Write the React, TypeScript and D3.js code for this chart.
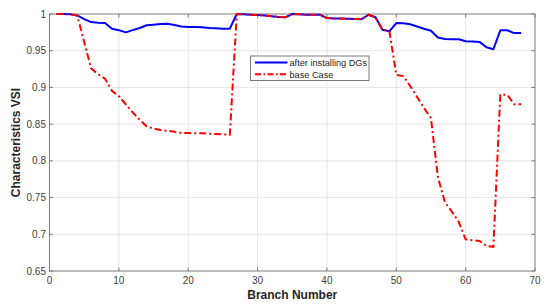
import React from "react";
import * as d3 from "d3";

const branches = d3.range(1, 69);
const afterDG = [
  1.0, 1.0, 0.9995, 0.998, 0.993, 0.989, 0.988, 0.9877, 0.98, 0.978,
  0.975, 0.978, 0.981, 0.9846, 0.9855, 0.9865, 0.9868, 0.985, 0.983, 0.9823,
  0.9822, 0.982, 0.981, 0.9805, 0.98, 0.98, 1.0, 0.9995, 0.999, 0.9986,
  0.998, 0.997, 0.996, 0.9955, 1.0, 0.9995, 0.999, 0.999, 0.999, 0.9945,
  0.994, 0.9938, 0.9935, 0.9932, 0.993, 0.999, 0.9955, 0.9786, 0.9764, 0.9877,
  0.9875, 0.986, 0.983, 0.98, 0.9773, 0.968, 0.966, 0.9655, 0.9655, 0.963,
  0.9625, 0.962, 0.9546, 0.952, 0.9778, 0.9778, 0.974, 0.974,
];
const baseCase = [
  1.0, 1.0, 0.9995, 0.998, 0.962, 0.926, 0.918, 0.912, 0.8955, 0.888,
  0.877, 0.866, 0.856, 0.847, 0.844, 0.842, 0.841, 0.8395, 0.838, 0.8378,
  0.8376, 0.8375, 0.837, 0.8365, 0.836, 0.8356, 1.0, 0.9995, 0.999, 0.9986,
  0.998, 0.997, 0.996, 0.9955, 1.0, 0.9995, 0.999, 0.999, 0.999, 0.9945,
  0.994, 0.9938, 0.9935, 0.9932, 0.993, 0.999, 0.9955, 0.9786, 0.977, 0.917,
  0.9155, 0.902, 0.887, 0.872, 0.858, 0.778, 0.744, 0.731, 0.717, 0.693,
  0.692, 0.691, 0.684, 0.683, 0.89, 0.89, 0.877, 0.877,
];
const xTicks = [0, 10, 20, 30, 40, 50, 60, 70];
const yTicks = [0.65, 0.7, 0.75, 0.8, 0.85, 0.9, 0.95, 1];
const seriesNames = ["after installing DGs", "base Case"];

const W = 550;
const H = 308;
const L = 49.5;
const R = 535;
const T = 14;
const B = 271;

export default function App() {
  const x = d3.scaleLinear().domain([0, 70]).range([L, R]);
  const y = d3.scaleLinear().domain([0.65, 1]).range([B, T]);
  const line = d3
    .line<number>()
    .x((_, i) => x(branches[i]))
    .y((d) => y(d));
  const font = "Arial, 'Liberation Sans', Helvetica, sans-serif";
  const tickCol = "#404040";
  const axisCol = "#7a7a7a";
  const dash = "7,3,2,3";
  return (
    <svg
      width={W}
      height={H}
      style={{ position: "absolute", left: 0, top: 0, background: "#fff" }}
      fontFamily={font}
    >
      <rect x={0} y={0} width={W} height={H} fill="#fff" />
      {/* grid */}
      {xTicks.slice(1, -1).map((t) => (
        <line key={"gx" + t} x1={x(t)} x2={x(t)} y1={T} y2={B} stroke="#e6e6e6" strokeWidth={1} />
      ))}
      {yTicks.slice(1, -1).map((t) => (
        <line key={"gy" + t} x1={L} x2={R} y1={y(t)} y2={y(t)} stroke="#e6e6e6" strokeWidth={1} />
      ))}
      {/* box */}
      <rect x={L} y={T} width={R - L} height={B - T} fill="none" stroke={axisCol} strokeWidth={1} />
      {/* ticks */}
      {xTicks.map((t) => (
        <g key={"tx" + t}>
          <line x1={x(t)} x2={x(t)} y1={B} y2={B - 3.5} stroke={axisCol} />
          <line x1={x(t)} x2={x(t)} y1={T} y2={T + 3.5} stroke={axisCol} />
          <text x={x(t)} y={284} textAnchor="middle" fontSize={10} fill={tickCol}>
            {t}
          </text>
        </g>
      ))}
      {yTicks.map((t) => (
        <g key={"ty" + t}>
          <line x1={L} x2={L + 3.5} y1={y(t)} y2={y(t)} stroke={axisCol} />
          <line x1={R} x2={R - 3.5} y1={y(t)} y2={y(t)} stroke={axisCol} />
          <text x={46} y={y(t) + 3.5} textAnchor="end" fontSize={10} fill={tickCol}>
            {String(t)}
          </text>
        </g>
      ))}
      {/* series */}
      <path d={line(afterDG) || ""} fill="none" stroke="#0000ff" strokeWidth={2} strokeLinejoin="round" />
      <path d={line(baseCase) || ""} fill="none" stroke="#ff0000" strokeWidth={2} strokeDasharray={dash} />
      {/* axis labels */}
      <text x={(L + R) / 2} y={299} textAnchor="middle" fontSize={12} fontWeight="bold" fill="#262626">
        Branch Number
      </text>
      <text
        transform={`translate(20,${(T + B) / 2}) rotate(-90)`}
        textAnchor="middle"
        fontSize={12}
        fontWeight="bold"
        fill="#262626"
      >
        Characteristics VSI
      </text>
      {/* legend */}
      <rect x={250.5} y={56} width={118.5} height={24.5} fill="#fff" stroke={axisCol} strokeWidth={1} />
      <line x1={255} x2={287.5} y1={62.5} y2={62.5} stroke="#0000ff" strokeWidth={2} />
      <line x1={255} x2={287.5} y1={74.3} y2={74.3} stroke="#ff0000" strokeWidth={2} strokeDasharray="6,2.5,1.5,2.5" />
      <text x={289.5} y={65.8} fontSize={9.2} fill="#262626">
        {seriesNames[0]}
      </text>
      <text x={289.5} y={77.6} fontSize={9.2} fill="#262626">
        {seriesNames[1]}
      </text>
    </svg>
  );
}
